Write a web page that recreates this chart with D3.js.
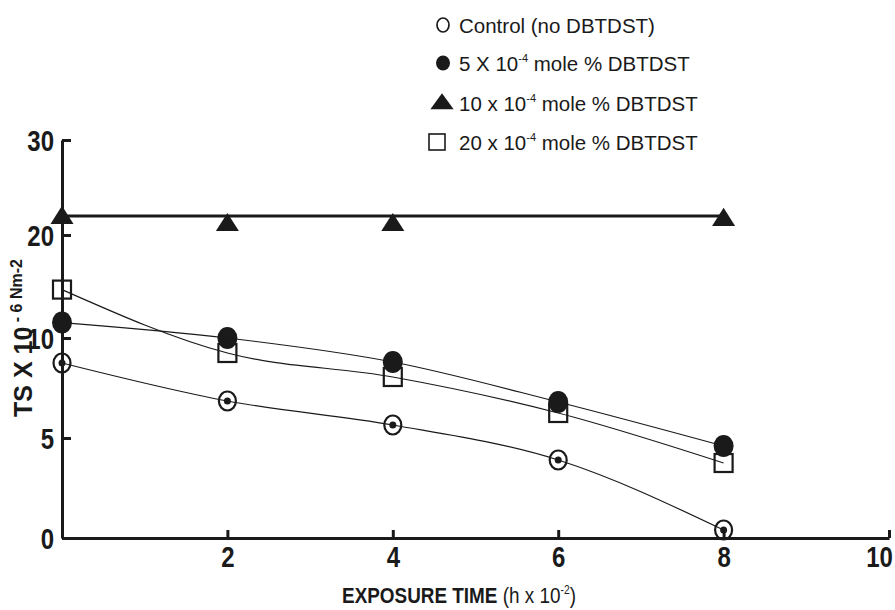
<!DOCTYPE html>
<html>
<head>
<meta charset="utf-8">
<title>TS vs exposure time</title>
<script src="https://d3js.org/d3.v7.min.js"></script>
<style>
  body { margin: 0; background: #fff; }
  svg { display: block; }
  .tick text { font-family: "Liberation Sans", Arial, sans-serif; font-weight: bold; font-size: 30px; fill: #1a1a1a; }
  .legend text { font-family: "Liberation Sans", Arial, sans-serif; font-size: 20.5px; fill: #1a1a1a; }
</style>
</head>
<body>
<script>
// exposure time (h x 10^-2)
var times = [0, 2, 4, 6, 8];
var control = [8.75, 6.85, 5.65, 3.9, 0.4];
var dose5 = [11.5, 10.0, 8.8, 6.8, 4.6];
var dose10 = [21.9, 21.15, 21.15, null, 21.7];
var dose10Fit = [22, 22, 22, 22, 22];
var dose20 = [14.7, 9.25, 8.05, 6.25, 3.75];

var xTicks = [2, 4, 6, 8, 10];
var yTicks = [0, 5, 10, 20, 30];

var legendLabels = [
  ["Control (no DBTDST)", "", ""],
  ["5 X 10", "-4", " mole % DBTDST"],
  ["10 x 10", "-4", " mole % DBTDST"],
  ["20 x 10", "-4", " mole % DBTDST"]
];
var legendSymbols = ["open", "filled", "triangle", "square"];

var W = 895, H = 610, ink = "#1a1a1a";
var squeeze = 0.8; // tick labels are a condensed face

var svg = d3.select("body").append("svg")
  .attr("width", W).attr("height", H);

var x = d3.scaleLinear().domain([0, 10]).range([62, 889]);
// the y axis is broken: 0-10 spread wide, 10-30 compressed
var y = d3.scaleLinear().domain([0, 10, 20, 30]).range([538, 338, 235, 140]);

// axes
var xAxis = svg.append("g")
  .attr("transform", "translate(0," + y(0) + ")")
  .call(d3.axisBottom(x).tickValues(xTicks).tickSize(-8).tickSizeOuter(0).tickPadding(8));
var yAxis = svg.append("g")
  .attr("transform", "translate(" + x(0) + ",0)")
  .call(d3.axisLeft(y).tickValues(yTicks).tickSize(-9).tickSizeOuter(0).tickPadding(8));

[xAxis, yAxis].forEach(function(g) {
  g.select(".domain").attr("stroke", ink).attr("stroke-width", 3);
  g.selectAll(".tick line").attr("stroke", ink).attr("stroke-width", 3);
  g.selectAll(".tick text").attr("transform", "scale(" + squeeze + ",1)");
});
xAxis.selectAll(".tick text").attr("dy", "0.71em");
xAxis.selectAll(".tick text").filter(function(d) { return d === 10; })
  .attr("x", -10 / squeeze);
yAxis.selectAll(".tick text").attr("dy", "0.36em").attr("x", -8 / squeeze);

// fitted lines
var line = d3.line()
  .defined(function(d) { return d[1] != null; })
  .x(function(d) { return x(d[0]); })
  .y(function(d) { return y(d[1]); })
  .curve(d3.curveMonotoneX);

function pairs(vals) {
  return times.map(function(t, i) { return [t, vals[i]]; }).filter(function(d) { return d[1] != null; });
}

[control, dose5, dose20].forEach(function(s) {
  svg.append("path").datum(pairs(s))
    .attr("d", line).attr("fill", "none").attr("stroke", ink).attr("stroke-width", 1.2);
});
svg.append("path").datum(pairs(dose10Fit))
  .attr("d", line).attr("fill", "none").attr("stroke", ink).attr("stroke-width", 3);

// markers
var tri = d3.symbol().type(d3.symbolTriangle).size(190);

svg.selectAll(".p20").data(pairs(dose20)).enter().append("rect")
  .attr("x", function(d) { return x(d[0]) - 9; })
  .attr("y", function(d) { return y(d[1]) - 9; })
  .attr("width", 18).attr("height", 18)
  .attr("fill", "none").attr("stroke", ink).attr("stroke-width", 2.2);

svg.selectAll(".p5").data(pairs(dose5)).enter().append("ellipse")
  .attr("cx", function(d) { return x(d[0]); })
  .attr("cy", function(d) { return y(d[1]); })
  .attr("rx", 10).attr("ry", 11).attr("fill", ink);

var ctl = svg.selectAll(".pc").data(pairs(control)).enter().append("g")
  .attr("transform", function(d) { return "translate(" + x(d[0]) + "," + y(d[1]) + ")"; });
ctl.append("ellipse").attr("rx", 8.5).attr("ry", 9.5)
  .attr("fill", "none").attr("stroke", ink).attr("stroke-width", 2.2);
ctl.append("circle").attr("r", 3.5).attr("fill", ink);

svg.selectAll(".p10").data(pairs(dose10)).enter().append("path")
  .attr("d", tri)
  .attr("transform", function(d) { return "translate(" + x(d[0]) + "," + (y(d[1]) + 1) + ") scale(1.1,1)"; })
  .attr("fill", ink);

// axis titles
var xt = svg.append("text")
  .attr("transform", "translate(459,603) scale(0.86,1)")
  .attr("text-anchor", "middle")
  .attr("font-family", "'Liberation Sans', Arial, sans-serif")
  .attr("fill", ink);
xt.append("tspan").attr("font-weight", "bold").attr("font-size", 22).text("EXPOSURE TIME ");
xt.append("tspan").attr("font-size", 22).text("(h x 10");
xt.append("tspan").attr("font-size", 12).attr("dy", -9).text("-2");
xt.append("tspan").attr("font-size", 22).attr("dy", 9).text(")");

var yt = svg.append("text")
  .attr("transform", "translate(32,338) rotate(-90)")
  .attr("text-anchor", "middle")
  .attr("font-family", "'Liberation Sans', Arial, sans-serif")
  .attr("font-weight", "bold")
  .attr("fill", ink);
yt.append("tspan").attr("font-size", 25).text("TS X 10");
yt.append("tspan").attr("font-size", 16).attr("dy", -10).text(" - 6 Nm-2");

// legend
var lg = svg.append("g").attr("class", "legend");
var rows = lg.selectAll("g").data(legendLabels).enter().append("g")
  .attr("transform", function(d, i) { return "translate(0," + [25, 63, 103, 142][i] + ")"; });

rows.each(function(d, i) {
  var g = d3.select(this), kind = legendSymbols[i];
  if (kind === "open") {
    g.append("ellipse").attr("cx", 443).attr("rx", 6).attr("ry", 7)
      .attr("fill", "none").attr("stroke", ink).attr("stroke-width", 1.7);
  } else if (kind === "filled") {
    g.append("ellipse").attr("cx", 443).attr("rx", 7).attr("ry", 7.5).attr("fill", ink);
  } else if (kind === "triangle") {
    g.append("path").attr("d", d3.symbol().type(d3.symbolTriangle).size(150))
      .attr("transform", "translate(442,1) scale(1.25,1)").attr("fill", ink);
  } else {
    g.append("rect").attr("x", 429).attr("y", -8).attr("width", 16).attr("height", 16)
      .attr("fill", "none").attr("stroke", ink).attr("stroke-width", 1.6);
  }
  var t = g.append("text").attr("x", 459).attr("y", 7.5);
  t.append("tspan").text(d[0]);
  if (d[1]) {
    t.append("tspan").attr("font-size", 11).attr("dy", -9).text(d[1]);
    t.append("tspan").attr("dy", 9).text(d[2]);
  }
});
</script>
</body>
</html>
